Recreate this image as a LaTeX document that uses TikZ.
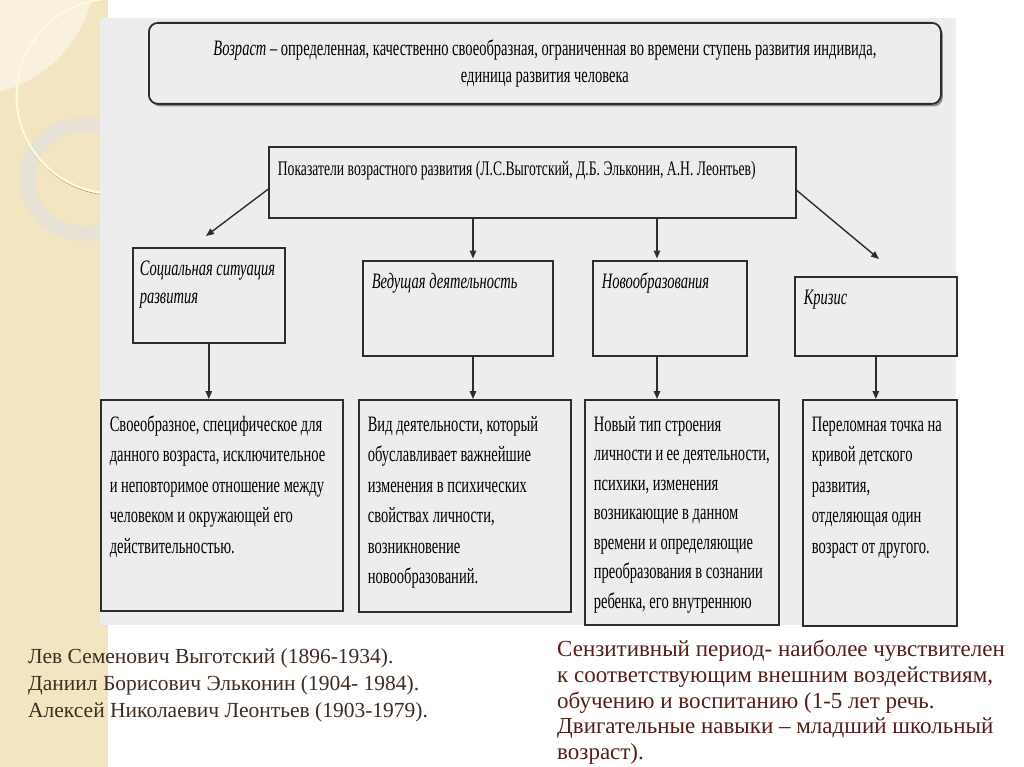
\documentclass[tikz,border=0pt]{standalone}
\usepackage{fontspec}
\setmainfont{Liberation Serif}
\newfontfamily\narrowserif[FakeStretch=0.66]{Liberation Serif}
\usetikzlibrary{arrows.meta,shadows}

\definecolor{strip}{RGB}{244,229,194}
\definecolor{stripLight}{RGB}{249,240,221}
\definecolor{ringGray}{RGB}{231,226,214}
\definecolor{panel}{RGB}{237,237,237}
\definecolor{boxline}{RGB}{45,45,45}
\definecolor{inkBrown}{RGB}{62,44,34}
\definecolor{inkRed}{RGB}{85,30,25}

\begin{document}
\begin{tikzpicture}[x=1pt,y=-1pt,
  frame/.style={draw=boxline,line width=1.6pt,fill=panel,anchor=north west,inner xsep=9pt,inner ysep=8pt},
  head/.style={frame,font=\narrowserif\itshape\fontsize{22}{28}\selectfont},
  desc/.style={frame,font=\narrowserif\fontsize{22}{30.5}\selectfont},
  arr/.style={draw=boxline,line width=1.4pt,-{Triangle[length=8pt,width=6.5pt]}},
  note/.style={anchor=north west,inner sep=0pt,align=left,font=\fontsize{21.5}{27}\selectfont}
]
  \useasboundingbox (0,0) rectangle (1024,767);

  % slide background
  \fill[white] (0,0) rectangle (1024,767);
  \fill[strip] (0,0) rectangle (108,767);
  \begin{scope}
    \clip (0,0) rectangle (108,767);
    \fill[stripLight] (-30,-30) circle (125);
    \fill[ringGray,even odd rule] (82,179) circle (62) (82,179) circle (47);
    \draw[strip!70!black,line width=.6pt] (115,97) circle (98.5);
    \draw[white!85!yellow,line width=2pt] (114,96) circle (97.5);
  \end{scope}
  \fill[panel] (100,18) rectangle (956,625);

  % definition
  \node[draw=boxline,line width=1.8pt,rounded corners=9pt,fill=panel,anchor=north west,
        minimum width=792pt,minimum height=81pt,align=center,
        drop shadow={shadow xshift=2pt,shadow yshift=-2.5pt,fill=black!60,opacity=.7},
        font=\narrowserif\fontsize{22}{27}\selectfont] (def) at (148,22)
    {\textit{Возраст} – определенная, качественно своеобразная, ограниченная во времени ступень развития индивида,\\
     единица развития человека};

  % indicators
  \node[frame,font=\narrowserif\fontsize{20.7}{29}\selectfont] (ind) at (268,146)
    {\parbox[t][55pt][t]{509pt}{\strut Показатели возрастного развития (Л.С.Выготский, Д.Б. Эльконин, А.Н. Леонтьев)}};

  \node[head,inner xsep=7pt] (soc) at (132,247) {\parbox[t][79pt][t]{138pt}{\raggedright\strut Социальная ситуация\\развития}};
  \node[head] (lead) at (362,260) {\parbox[t][79pt][t]{172pt}{\raggedright\strut Ведущая деятельность}};
  \node[head] (neo) at (592,260) {\parbox[t][79pt][t]{136pt}{\raggedright\strut Новообразования}};
  \node[head] (crisis) at (794,276) {\parbox[t][63pt][t]{144pt}{\raggedright\strut Кризис}};

  \node[desc] (d1) at (100,399) {\parbox[t][195pt][t]{224pt}{\raggedright\rule{0pt}{23.5pt}%
    Своеобразное, специфическое для\\
    данного возраста, исключительное\\
    и неповторимое отношение между\\
    человеком и окружающей его\\
    действительностью.}};
  \node[desc] (d2) at (358,399) {\parbox[t][196pt][t]{194pt}{\raggedright\rule{0pt}{23.5pt}%
    Вид деятельности, который\\
    обуславливает важнейшие\\
    изменения в психических\\
    свойствах личности,\\
    возникновение\\
    новообразований.}};
  \node[desc,font=\narrowserif\fontsize{22}{29.5}\selectfont] (d3) at (584,399) {\parbox[t][209pt][t]{176pt}{\raggedright\rule{0pt}{23.5pt}%
    Новый тип строения\\
    личности и ее деятельности,\\
    психики, изменения\\
    возникающие в данном\\
    времени и определяющие\\
    преобразования в сознании\\
    ребенка, его внутреннюю}};
  \node[desc] (d4) at (802,399) {\parbox[t][210pt][t]{136pt}{\raggedright\rule{0pt}{23.5pt}%
    Переломная точка на\\
    кривой детского\\
    развития,\\
    отделяющая один\\
    возраст от другого.}};

  % arrows
  \coordinate (ax2) at (473,0);
  \coordinate (ax3) at (657,0);
  \coordinate (socTip) at (206,236);
  \coordinate (crisisTip) at (879,259);
  \draw[arr] ([yshift=-7pt]ind.west) -- (socTip);
  \draw[arr] (ind.south -| ax2) -- ([yshift=1.5pt]lead.north -| ax2);
  \draw[arr] (ind.south -| ax3) -- ([yshift=1.5pt]neo.north -| ax3);
  \draw[arr] ([yshift=-8pt]ind.east) -- (crisisTip);
  \draw[arr] (soc.south) -- (soc.south |- d1.north);
  \draw[arr] (lead.south -| ax2) -- (d2.north -| ax2);
  \draw[arr] (neo.south -| ax3) -- (d3.north -| ax3);
  \draw[arr] (crisis.south) -- (crisis.south |- d4.north);

  % notes below
  \node[note,text=inkBrown] (names) at (28,648)
    {Лев Семенович Выготский (1896-1934).\\
     Даниил Борисович Эльконин (1904- 1984).\\
     Алексей Николаевич Леонтьев (1903-1979).};
  \node[note,text=inkRed,font=\fontsize{23}{25.7}\selectfont] (sens) at (557,640)
    {Сензитивный период- наиболее чувствителен\\
     к соответствующим внешним воздействиям,\\
     обучению и воспитанию (1-5 лет речь.\\
     Двигательные навыки – младший школьный\\
     возраст).};
\end{tikzpicture}
\end{document}
